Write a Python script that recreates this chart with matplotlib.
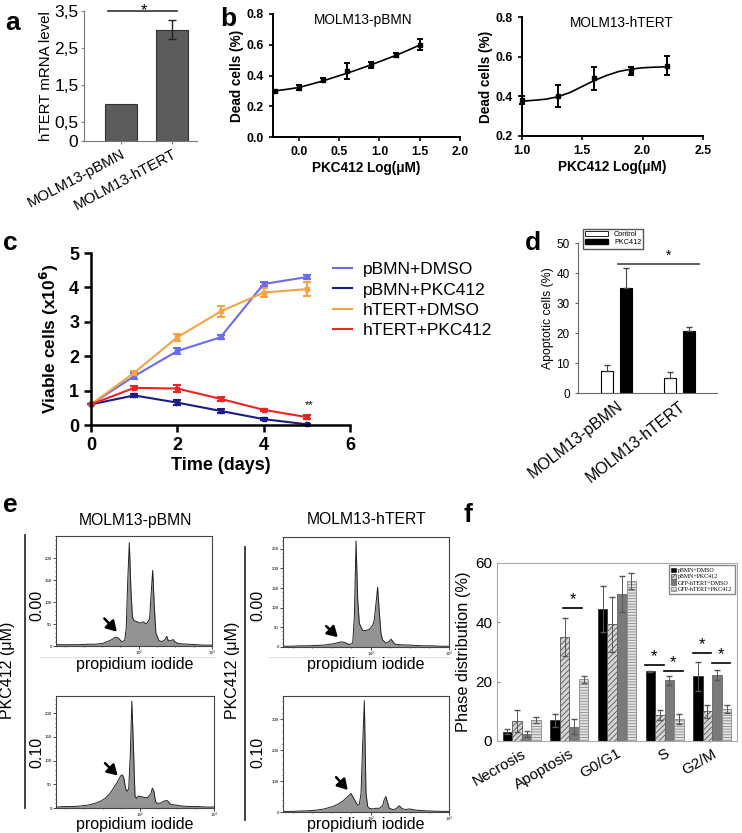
import matplotlib.pyplot as plt
from matplotlib.patches import Patch
from matplotlib.lines import Line2D

plt.rcParams['font.family'] = ['Liberation Sans', 'DejaVu Sans']
plt.rcParams['hatch.linewidth'] = 0.6

# ---- data ----
# a: hTERT mRNA
a_groups = ["MOLM13-pBMN", "MOLM13-hTERT"]
a_values = [1.0, 3.0]
a_err = [0.0, 0.26]
a_ticks = [0, 0.5, 1.5, 2.5, 3.5]

# b: dose response
b1_x = [-0.3, 0.0, 0.3, 0.6, 0.9, 1.2, 1.5]
b1_y = [0.30, 0.32, 0.37, 0.43, 0.47, 0.535, 0.60]
b1_err = [0.0, 0.015, 0.012, 0.05, 0.02, 0.012, 0.035]
b1_fit_x = [-0.3, -0.15, 0.0, 0.15, 0.3, 0.45, 0.6, 0.75, 0.9, 1.05, 1.2, 1.35, 1.5]
b1_fit_y = [0.300, 0.310, 0.322, 0.343, 0.365, 0.390, 0.415, 0.442, 0.470, 0.500, 0.530, 0.563, 0.598]

b2_x = [1.0, 1.3, 1.6, 1.9, 2.2]
b2_y = [0.38, 0.40, 0.49, 0.53, 0.555]
b2_err = [0.02, 0.055, 0.06, 0.02, 0.048]
b2_fit_x = [1.0, 1.1, 1.2, 1.3, 1.4, 1.5, 1.6, 1.7, 1.8, 1.9, 2.0, 2.1, 2.2]
b2_fit_y = [0.376, 0.380, 0.386, 0.398, 0.420, 0.450, 0.480, 0.505, 0.525, 0.537, 0.544, 0.547, 0.549]

# c: growth curves
days = [0, 1, 2, 3, 4, 5]
c_labels = ["pBMN+DMSO", "pBMN+PKC412", "hTERT+DMSO", "hTERT+PKC412"]
c_values = [
    [0.6, 1.42, 2.15, 2.55, 4.1, 4.3],
    [0.6, 0.86, 0.65, 0.41, 0.17, 0.02],
    [0.6, 1.52, 2.55, 3.3, 3.85, 3.95],
    [0.6, 1.08, 1.06, 0.76, 0.44, 0.23],
]
c_errs = [
    [0.0, 0.08, 0.09, 0.06, 0.05, 0.06],
    [0.0, 0.04, 0.08, 0.06, 0.03, 0.02],
    [0.0, 0.06, 0.1, 0.17, 0.13, 0.2],
    [0.0, 0.04, 0.09, 0.05, 0.03, 0.05],
]
c_colors = ["#6b6bf0", "#1c1c86", "#f5a344", "#ee2424"]

# d: apoptotic cells
d_groups = ["MOLM13-pBMN", "MOLM13-hTERT"]
d_control = [7.2, 4.9]
d_control_err = [2.2, 2.0]
d_pkc = [35.0, 20.8]
d_pkc_err = [6.7, 1.2]

# e: PI histograms (channel 0-100, counts)
tl_x = [0, 5, 10, 15, 20, 25, 30, 33, 36, 38, 40, 42, 44, 45, 46, 47, 48, 49, 50, 52, 54,
        56, 58, 60, 61, 62, 63, 64, 66, 68, 70, 71, 72, 74, 75, 76, 78, 80, 85, 90, 95, 100]
tl_y = [3, 3, 3, 3, 4, 4, 6, 10, 15, 20, 18, 10, 12, 40, 150, 235, 130, 65, 58, 55, 52,
        55, 50, 62, 120, 172, 90, 30, 12, 10, 15, 22, 12, 12, 15, 10, 6, 5, 4, 3, 2, 2]
bl_x = [0, 5, 10, 15, 20, 25, 28, 31, 34, 36, 38, 40, 41, 42, 43, 44, 45, 46, 47, 48, 49, 50,
        51, 52, 54, 56, 58, 60, 61, 62, 63, 64, 66, 68, 70, 71, 72, 74, 76, 80, 85, 90, 95, 100]
bl_y = [2, 3, 3, 4, 6, 10, 14, 20, 30, 40, 50, 62, 68, 70, 62, 42, 35, 40, 110, 225, 130, 25,
        20, 25, 24, 22, 22, 30, 42, 35, 14, 10, 10, 14, 16, 14, 9, 7, 6, 4, 3, 3, 2, 2]
tr_x = [0, 5, 10, 15, 20, 25, 30, 33, 35, 37, 39, 40, 42, 43, 44, 45, 46, 48, 50, 52, 54,
        55, 56, 57, 58, 59, 60, 62, 64, 65, 66, 67, 68, 70, 75, 80, 85, 90, 95, 100]
tr_y = [2, 2, 3, 3, 4, 5, 8, 11, 13, 12, 8, 6, 10, 80, 270, 120, 60, 42, 42, 45, 55,
        70, 110, 152, 90, 35, 18, 10, 14, 20, 15, 9, 7, 6, 5, 4, 3, 3, 2, 2]
br_x = [0, 5, 10, 15, 20, 25, 30, 33, 36, 38, 40, 41, 42, 43, 44, 45, 46, 47, 48, 49, 50,
        51, 52, 54, 56, 58, 60, 61, 62, 63, 64, 66, 68, 70, 72, 74, 76, 80, 85, 90, 95, 100]
br_y = [2, 2, 3, 4, 6, 10, 18, 25, 35, 45, 55, 60, 50, 40, 30, 22, 25, 60, 220, 360, 60,
        18, 12, 10, 12, 12, 20, 40, 50, 30, 12, 8, 10, 20, 10, 8, 10, 6, 4, 3, 2, 2]

# f: phase distribution
f_phases = ["Necrosis", "Apoptosis", "G0/G1", "S", "G2/M"]
f_labels = ["pBMN+DMSO", "pBMN+PKC412", "GFP-hTERT+DMSO", "GFP-hTERT+PKC412"]
f_values = [
    [3.1, 7.0, 44.5, 23.5, 21.8],
    [6.9, 35.0, 39.3, 8.7, 10.1],
    [2.5, 4.8, 49.5, 20.4, 22.3],
    [7.2, 20.8, 54.0, 7.3, 10.9],
]
f_errs = [
    [0.8, 2.2, 7.6, 0.2, 4.8],
    [3.7, 6.5, 9.4, 1.7, 2.2],
    [1.0, 2.5, 6.0, 1.6, 1.8],
    [1.0, 1.2, 2.6, 1.7, 1.4],
]
# significance: (group, first bar, last bar, height)
f_sig = [(1, 1, 3, 44.8), (3, 0, 1, 25.6), (3, 2, 3, 23.7), (4, 0, 1, 29.5), (4, 2, 3, 26.4)]

W, H = 742, 833
fig = plt.figure(figsize=(W / 100, H / 100), dpi=100)


def box(l, t, r, b):
    return [l / W, 1 - b / H, (r - l) / W, (b - t) / H]


def ftext(x, y, s, **kw):
    fig.text(x / W, 1 - y / H, s, **kw)


# ---- a ----
ax = fig.add_axes(box(84, 11, 197, 141))
ax.bar(range(2), a_values, width=0.62, color='#5c5c5c', edgecolor='#333333', lw=0.8)
ax.errorbar(1, a_values[1], yerr=a_err[1], color='#222222', capsize=3, lw=1)
ax.set_xlim(-0.72, 1.48)
ax.set_ylim(0, 3.5)
ax.set_yticks(a_ticks)
ax.set_yticklabels([str(v).replace('.', ',') if v else '0' for v in a_ticks], fontsize=12.5)
ax.set_xticks(range(2))
ax.set_xticklabels(a_groups, rotation=28, ha='right', rotation_mode='anchor', fontsize=10.8)
ax.tick_params(length=2, color='#888888', pad=2)
ax.set_ylabel("hTERT mRNA level", fontsize=10.8)
ax.yaxis.set_label_coords(-0.27, 0.5)
for s in ['top', 'right']:
    ax.spines[s].set_visible(False)
ax.spines['left'].set_color('#777777')
ax.spines['bottom'].set_color('#777777')
ax.plot([-0.25, 1.1], [3.5, 3.5], color='#333333', lw=1.2, clip_on=False)
ax.text(0.45, 3.38, '*', ha='center', va='baseline', fontsize=12)
ftext(5, 30, 'a', fontsize=19, fontweight='bold')


# ---- b ----
def dose_panel(pos, x, y, err, fx, fy, xlim, ylim, xticks, yticks, title, tx):
    ax = fig.add_axes(pos)
    ax.plot(fx, fy, color='black', lw=1.2)
    ax.errorbar(x, y, yerr=err, fmt='s', color='black', ms=3.5, capsize=2.5,
                elinewidth=1.4, capthick=1.4, clip_on=False)
    ax.set_xlim(*xlim)
    ax.set_ylim(*ylim)
    ax.set_xticks(xticks)
    ax.set_yticks(yticks)
    ax.set_xticklabels(['%.1f' % v for v in xticks], fontsize=8.8, fontweight='bold')
    ax.set_yticklabels(['%.1f' % v for v in yticks], fontsize=8.8, fontweight='bold')
    ax.tick_params(length=3, width=1.2, direction='out')
    for s in ['top', 'right']:
        ax.spines[s].set_visible(False)
    for s in ['left', 'bottom']:
        ax.spines[s].set_linewidth(1.4)
    ax.set_xlabel("PKC412 Log(\u03bcM)", fontsize=9.8, fontweight='bold', labelpad=2)
    ax.set_ylabel("Dead cells (%)", fontsize=9.8, fontweight='bold', labelpad=2)
    ax.text(tx, 0.95, title, transform=ax.transAxes, ha='center', va='center', fontsize=9.8)
    return ax


dose_panel(box(273, 14, 460, 137), b1_x, b1_y, b1_err, b1_fit_x, b1_fit_y,
           (-0.32, 2.0), (0, 0.8), [0.0, 0.5, 1.0, 1.5, 2.0], [0.0, 0.2, 0.4, 0.6, 0.8],
           "MOLM13-pBMN", 0.48)
dose_panel(box(522, 17, 703, 136), b2_x, b2_y, b2_err, b2_fit_x, b2_fit_y,
           (1.0, 2.5), (0.2, 0.8), [1.0, 1.5, 2.0, 2.5], [0.2, 0.4, 0.6, 0.8],
           "MOLM13-hTERT", 0.55)
ftext(220, 26, 'b', fontsize=19, fontweight='bold')

# ---- c ----
ax = fig.add_axes(box(91, 253, 350, 425))
for vals, errs, col, lab in zip(c_values, c_errs, c_colors, c_labels):
    ax.errorbar(days, vals, yerr=errs, color=col, lw=1.5, marker='s', ms=3.5,
                capsize=3, capthick=1.5, label=lab, clip_on=False)
ax.set_xlim(0, 6)
ax.set_ylim(0, 5)
ax.set_xticks([0, 2, 4, 6])
ax.set_yticks(range(6))
ax.tick_params(labelsize=13, length=5, width=1.8)
for lab in ax.get_xticklabels() + ax.get_yticklabels():
    lab.set_fontweight('bold')
for s in ['top', 'right']:
    ax.spines[s].set_visible(False)
for s in ['left', 'bottom']:
    ax.spines[s].set_linewidth(1.8)
ax.set_xlabel("Time (days)", fontsize=13, fontweight='bold', labelpad=2)
ax.set_ylabel("Viable cells (x10$^{\\mathbf{6}}$)", fontsize=12.5, fontweight='bold', labelpad=6)
ax.text(5.05, 0.42, '**', ha='center', va='bottom', fontsize=8)
handles = [Line2D([], [], color=col, lw=1.5) for col in c_colors]
ax.legend(handles, c_labels, loc='upper left', bbox_to_anchor=(333 / W, 1 - 262 / H),
          bbox_transform=fig.transFigure, frameon=False, fontsize=12.5, handlelength=1.1,
          handletextpad=0.6, labelspacing=0.3, borderpad=0, borderaxespad=0)
ftext(3, 250, 'c', fontsize=19, fontweight='bold')

# ---- d ----
ax = fig.add_axes(box(578, 243, 717, 393))
xs = [0, 1]
ax.bar([x - 0.15 for x in xs], d_control, width=0.19, color='white', edgecolor='black', lw=0.8)
ax.bar([x + 0.15 for x in xs], d_pkc, width=0.19, color='black', edgecolor='black', lw=0.8)
ax.errorbar([x - 0.15 for x in xs], d_control, yerr=[[0, 0], d_control_err], fmt='none',
            ecolor='#444444', capsize=2.5, lw=0.8)
ax.errorbar([x + 0.15 for x in xs], d_pkc, yerr=[[0, 0], d_pkc_err], fmt='none',
            ecolor='#444444', capsize=2.5, lw=0.8)
ax.set_xlim(-0.62, 1.6)
ax.set_ylim(0, 50)
ax.set_yticks(range(0, 51, 10))
ax.tick_params(axis='y', labelsize=8.5, length=2.5, color='#666666')
ax.set_xticks(xs)
ax.set_xticklabels(d_groups, rotation=38, ha='right', rotation_mode='anchor', fontsize=11.5)
ax.tick_params(axis='x', length=0, pad=4)
for s in ['top', 'right']:
    ax.spines[s].set_visible(False)
ax.spines['left'].set_color('#666666')
ax.spines['bottom'].set_color('#666666')
ax.set_ylabel("Apoptotic cells (%)", fontsize=8.8, labelpad=2)
ax.plot([0.02, 1.31], [43, 43], color='#444444', lw=1.2)
ax.text(0.82, 43.3, '*', ha='center', va='bottom', fontsize=10)
ax.legend([Patch(facecolor='white', edgecolor='black', lw=0.6),
           Patch(facecolor='black', edgecolor='black')], ["Control", "PKC412"],
          loc='upper left', bbox_to_anchor=(583 / W, 1 - 229 / H), bbox_transform=fig.transFigure,
          fontsize=5.2, handlelength=3.2, handleheight=0.7, borderpad=0.3, labelspacing=0.15,
          fancybox=False, edgecolor='#555555', framealpha=1, borderaxespad=0)
ftext(525, 250, 'd', fontsize=19, fontweight='bold')


# ---- e ----
def hist_panel(pos, x, y, ymax, yticks, arrow_head, arrow_tail):
    ax = fig.add_axes(pos)
    ax.fill_between(x, y, color='#939393', lw=0)
    ax.plot(x, y, color='#222222', lw=0.7)
    ax.set_xlim(0, 100)
    ax.set_ylim(0, ymax)
    ax.set_yticks(yticks)
    ax.set_yticklabels([str(v) for v in yticks], fontsize=3.2)
    ax.set_xticks([53, 100])
    ax.set_xticklabels(['10$^2$', '10$^3$'], fontsize=3)
    ax.minorticks_on()
    ax.tick_params(which='major', length=2, width=0.5, pad=1)
    ax.tick_params(axis='x', which='major', pad=0.3)
    ax.tick_params(which='minor', length=1, width=0.4)
    for s in ax.spines.values():
        s.set_linewidth(0.8)
        s.set_color('#444444')
    ax.annotate('', xy=arrow_head, xytext=arrow_tail, xycoords='axes fraction',
                arrowprops=dict(arrowstyle='-|>,head_length=0.5,head_width=0.3',
                                mutation_scale=12, color='black', lw=1.8,
                                shrinkA=0, shrinkB=0))
    return ax


hist_panel(box(56, 536, 212, 646), tl_x, tl_y, 250, [0, 50, 100, 150, 200],
           (0.39, 0.13), (0.31, 0.25))
hist_panel(box(56, 696, 214, 808), bl_x, bl_y, 236, [0, 50, 100, 150, 200],
           (0.39, 0.29), (0.31, 0.40))
hist_panel(box(283, 537, 449, 647), tr_x, tr_y, 280, [0, 50, 100, 150, 200, 250],
           (0.33, 0.09), (0.26, 0.19))
hist_panel(box(283, 696, 449, 812), br_x, br_y, 375, [0, 100, 200, 300],
           (0.39, 0.19), (0.32, 0.30))

ftext(135, 520, "MOLM13-pBMN", fontsize=11.3, ha='center', va='center')
ftext(367, 520, "MOLM13-hTERT", fontsize=11.3, ha='center', va='center')
for cx in [135, 366]:
    ftext(cx, 665, "propidium iodide", fontsize=11.5, ha='center', va='center')
    ftext(cx, 824, "propidium iodide", fontsize=11.5, ha='center', va='center')
for lx, vx, top, bot, dx in [(8, 25, 535, 808, 37), (233, 245, 547, 820, 258)]:
    fig.add_artist(Line2D([vx / W, vx / W], [1 - top / H, 1 - bot / H], color='#333333', lw=1.3))
    ftext(lx, 670, "PKC412 (\u03bcM)", fontsize=11.5, rotation=90, ha='center', va='center')
    ftext(dx, 605, "0.00", fontsize=11.5, rotation=90, ha='center', va='center')
    ftext(dx, 752, "0.10", fontsize=11.5, rotation=90, ha='center', va='center')
for l, r in [(40, 215), (268, 450)]:
    fig.add_artist(Line2D([l / W, r / W], [1 - 657 / H] * 2, color='#dddddd', lw=0.6))
ftext(3, 512, 'e', fontsize=19, fontweight='bold')

# ---- f ----
ax = fig.add_axes(box(497, 563, 737, 741))
f_styles = [dict(color='black', edgecolor='#333333'),
            dict(color='#d4d4d4', edgecolor='#555555', hatch='//////'),
            dict(color='#7a7a7a', edgecolor='#666666'),
            dict(color='#e2e2e2', edgecolor='#8a8a8a', hatch='------')]
offsets = [-0.3, -0.1, 0.1, 0.3]
for vals, errs, st, off, lab in zip(f_values, f_errs, f_styles, offsets, f_labels):
    pos = [i + off for i in range(len(f_phases))]
    ax.bar(pos, vals, width=0.2, lw=0.6, label=lab, **st)
    ax.errorbar(pos, vals, yerr=errs, fmt='none', ecolor='#555555', capsize=2, lw=0.7)
for g, i, j, yv in f_sig:
    if g == 1:
        x0, x1 = g + offsets[i] - 0.03, g + offsets[j] - 0.03
    else:
        x0, x1 = g + offsets[i] - 0.11, g + offsets[j] + 0.08
    ax.plot([x0, x1], [yv, yv], color='black', lw=1.2)
    ax.text((x0 + x1) / 2, yv + 0.3, '*', ha='center', va='bottom', fontsize=12)
ax.set_xlim(-0.52, 4.52)
ax.set_ylim(0, 60)
ax.set_yticks([0, 20, 40, 60])
ax.tick_params(axis='y', labelsize=11, length=2, direction='in', color='#888888')
ax.set_xticks(range(len(f_phases)))
ax.set_xticklabels(f_phases, rotation=30, ha='right', rotation_mode='anchor', fontsize=11)
ax.tick_params(axis='x', length=0, pad=4)
for s in ax.spines.values():
    s.set_color('#aaaaaa')
ax.set_ylabel("Phase distribution (%)", fontsize=11.8, labelpad=3)
ax.legend(loc='upper right', prop={'family': 'Liberation Serif', 'size': 4.3}, fancybox=False,
          edgecolor='#888888', framealpha=1, handlelength=0.9, handleheight=0.8,
          handletextpad=0.3, labelspacing=0.15, borderpad=0.4, borderaxespad=0.4)
ftext(463, 522, 'f', fontsize=19, fontweight='bold')

fig.savefig('out.png', dpi=100)
